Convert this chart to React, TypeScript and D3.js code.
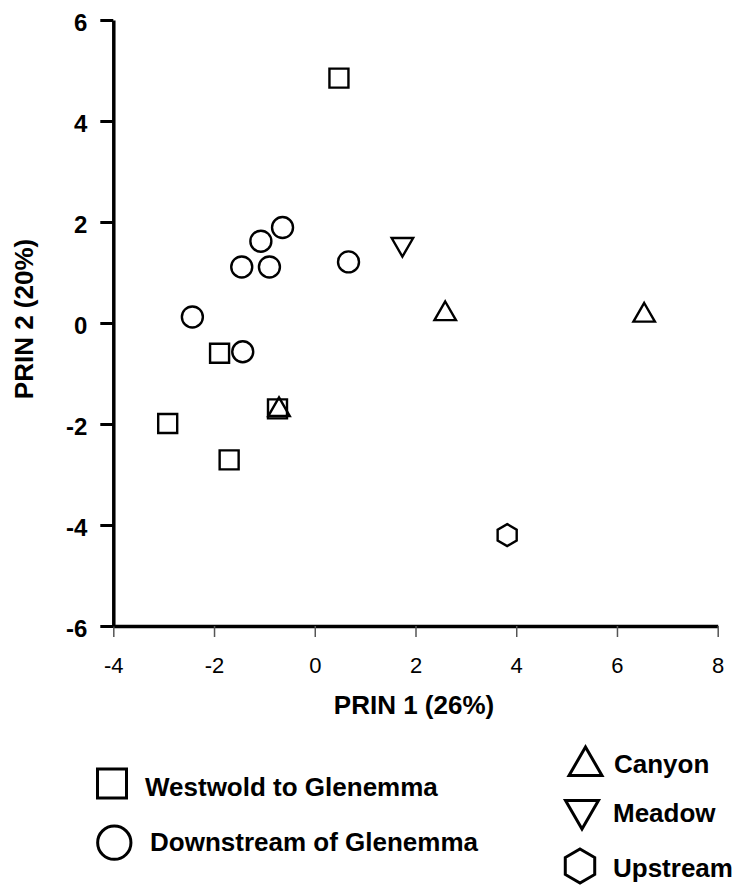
import { useEffect, useRef } from 'react'
import * as d3 from 'd3'

// PCA scores
const westwoldX = [0.48, -1.89, -2.92, -1.70, -0.74]
const westwoldY = [4.85, -0.60, -1.99, -2.71, -1.70]
const downstreamX = [-0.64, -1.07, -1.45, -0.90, 0.67, -2.43, -1.43]
const downstreamY = [1.89, 1.62, 1.11, 1.11, 1.21, 0.12, -0.57]
const canyonX = [2.59, 6.54, -0.71]
const canyonY = [0.18, 0.15, -1.72]
const meadowX = [1.74]
const meadowY = [1.56]
const upstreamX = [3.82]
const upstreamY = [-4.2]

const xTicks = [-4, -2, 0, 2, 4, 6, 8]
const yTicks = [-6, -4, -2, 0, 2, 4, 6]

const font = 'Liberation Sans, Arial, Helvetica, sans-serif'

// pointy-top hexagon, size = circumradius^2
const hexagon = {
  draw(ctx: any, size: number) {
    const r = Math.sqrt(size)
    for (let i = 0; i < 6; i++) {
      const a = -Math.PI / 2 + (i * Math.PI) / 3
      if (i === 0) ctx.moveTo(r * Math.cos(a), r * Math.sin(a))
      else ctx.lineTo(r * Math.cos(a), r * Math.sin(a))
    }
    ctx.closePath()
  },
}

export default function App() {
  const svgRef = useRef<SVGSVGElement>(null)

  useEffect(() => {
    const svg = d3.select(svgRef.current)
    svg.selectAll('*').remove()

    const x = d3.scaleLinear().domain([-4, 8]).range([113.3, 717.7])
    const y = d3.scaleLinear().domain([-6, 6]).range([626, 20])

    // x axis
    const gx = svg.append('g').attr('transform', `translate(0,${y(-6)})`)
    gx.call(d3.axisBottom(x).tickValues(xTicks).tickSize(11).tickSizeOuter(0).tickPadding(20).tickFormat((d) => String(d)))
    gx.select('.domain').attr('stroke', '#000').attr('stroke-width', 3.5)
    gx.selectAll('.tick line').attr('stroke', '#555').attr('stroke-width', 1.5)
    gx.selectAll('.tick text')
      .attr('fill', '#000')
      .style('font-family', font)
      .style('font-size', '22px')

    // y axis
    const gy = svg.append('g').attr('transform', `translate(${x(-4)},0)`)
    gy.call(d3.axisLeft(y).tickValues(yTicks).tickSize(13).tickSizeOuter(0).tickPadding(13).tickFormat((d) => String(d)))
    gy.select('.domain').attr('stroke', '#000').attr('stroke-width', 3.5)
    gy.selectAll('.tick line').attr('stroke', '#000').attr('stroke-width', 3)
    gy.selectAll('.tick text')
      .attr('fill', '#000')
      .attr('dy', '0.42em')
      .style('font-family', font)
      .style('font-weight', 'bold')
      .style('font-size', '24px')

    // axis titles
    svg.append('text')
      .attr('x', 414)
      .attr('y', 714)
      .attr('text-anchor', 'middle')
      .style('font-family', font)
      .style('font-weight', 'bold')
      .style('font-size', '26px')
      .text('PRIN 1 (26%)')

    svg.append('text')
      .attr('transform', 'translate(33,319) rotate(-90)')
      .attr('text-anchor', 'middle')
      .style('font-family', font)
      .style('font-weight', 'bold')
      .style('font-size', '26px')
      .text('PRIN 2 (20%)')

    const groups = [
      { xs: westwoldX, ys: westwoldY, type: d3.symbolSquare, size: 361, rot: 0 },
      { xs: downstreamX, ys: downstreamY, type: d3.symbolCircle, size: 346, rot: 0 },
      { xs: canyonX, ys: canyonY, type: d3.symbolTriangle, size: 200, rot: 0 },
      { xs: meadowX, ys: meadowY, type: d3.symbolTriangle, size: 200, rot: 180 },
      { xs: upstreamX, ys: upstreamY, type: hexagon, size: 121, rot: 0 },
    ]

    groups.forEach((gr) => {
      svg.append('g')
        .selectAll('path')
        .data(gr.xs.map((v, i) => [v, gr.ys[i]]))
        .join('path')
        .attr('d', d3.symbol().type(gr.type as any).size(gr.size)())
        .attr('transform', (d) => `translate(${x(d[0])},${y(d[1])}) rotate(${gr.rot})`)
        .attr('fill', 'none')
        .attr('stroke', '#000')
        .attr('stroke-width', 2.4)
    })

    // legend
    const legend = [
      { label: 'Westwold to Glenemma', type: d3.symbolSquare, size: 841, rot: 0, mx: 112, my: 783.5, tx: 145, ty: 796 },
      { label: 'Downstream of Glenemma', type: d3.symbolCircle, size: 870, rot: 0, mx: 114.3, my: 842.7, tx: 150, ty: 850.5 },
      { label: 'Canyon', type: d3.symbolTriangle, size: 470, rot: 0, mx: 585.5, my: 766, tx: 614, ty: 773 },
      { label: 'Meadow', type: d3.symbolTriangle, size: 470, rot: 180, mx: 582, my: 810, tx: 613, ty: 822 },
      { label: 'Upstream', type: hexagon, size: 289, rot: 0, mx: 580, my: 866, tx: 613, ty: 877 },
    ]
    const lg = svg.append('g')
    legend.forEach((l) => {
      lg.append('path')
        .attr('d', d3.symbol().type(l.type as any).size(l.size)())
        .attr('transform', `translate(${l.mx},${l.my}) rotate(${l.rot})`)
        .attr('fill', 'none')
        .attr('stroke', '#000')
        .attr('stroke-width', 3)
      lg.append('text')
        .attr('x', l.tx)
        .attr('y', l.ty)
        .style('font-family', font)
        .style('font-weight', 'bold')
        .style('font-size', '26px')
        .text(l.label)
    })
  }, [])

  return (
    <svg
      ref={svgRef}
      width={738}
      height={888}
      style={{ position: 'absolute', left: 0, top: 0, background: '#fff' }}
    />
  )
}
